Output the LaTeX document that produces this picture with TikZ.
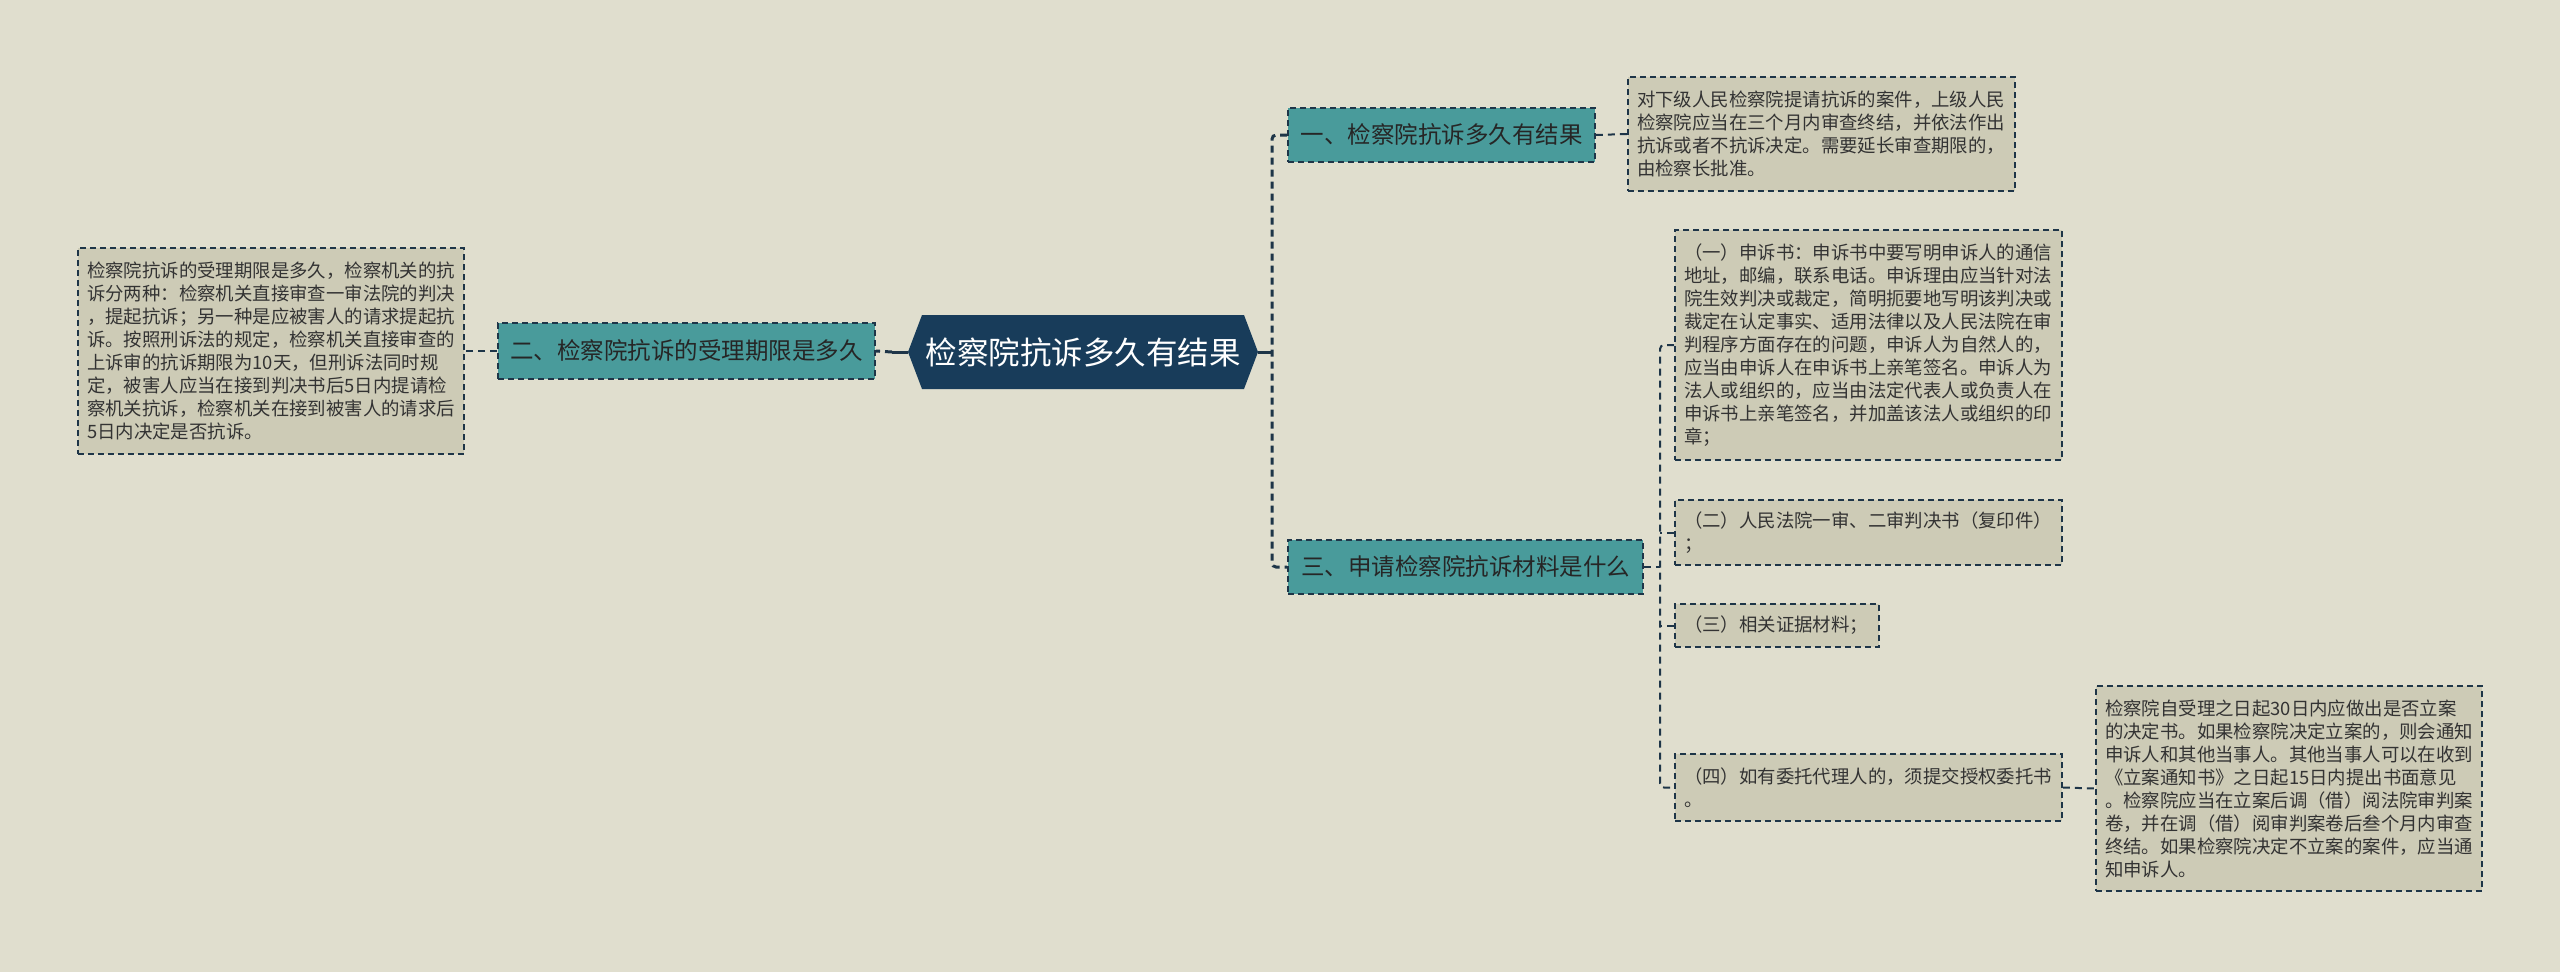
\documentclass[tikz,border=0pt]{standalone}
\usepackage{fontspec}
\newfontfamily\cjk{Noto Sans CJK SC}
\definecolor{bgc}{HTML}{E0DECE}
\definecolor{leaffill}{HTML}{CDCBB6}
\definecolor{teal1}{HTML}{499B9B}
\definecolor{navy}{HTML}{183C5A}
\definecolor{edgec}{HTML}{1E3548}
\definecolor{txt}{HTML}{333333}
\begin{document}
\begin{tikzpicture}[x=1pt,y=-1pt,
  leaf/.style={draw=edgec, fill=leaffill, line width=1.6pt, dash pattern=on 6pt off 4pt,
    inner sep=0pt, font=\cjk\fontsize{18.4}{23}\selectfont, text=txt, align=left, anchor=center},
  branch/.style={draw=edgec, fill=teal1, line width=1.6pt, dash pattern=on 6pt off 4pt,
    inner sep=0pt, font=\cjk\fontsize{23.5}{28}\selectfont, text=black!85, align=center, anchor=center},
  conn/.style={draw=edgec, line width=3pt, dash pattern=on 7pt off 5pt, rounded corners=4pt},
  sconn/.style={draw=edgec, line width=3pt},
  lconn/.style={draw=edgec, line width=2pt, dash pattern=on 7pt off 5pt, rounded corners=4pt}
]
\useasboundingbox[fill=bgc] (0,0) rectangle (2560,972);

% root
\fill[navy] (908,352) -- (922,315) -- (1244,315) -- (1258,352) -- (1244,389) -- (922,389) -- cycle;
\node[font=\cjk\fontsize{31.5}{36}\selectfont, text=white, inner sep=0pt, minimum width=350pt, minimum height=74pt] (root) at (1083,352) {检察院抗诉多久有结果};

% branches
\node[branch, minimum width=377pt, minimum height=56pt] (b2) at (686.5,351) {二、检察院抗诉的受理期限是多久};
\node[branch, minimum width=307pt, minimum height=54pt] (b1) at (1441.5,135) {一、检察院抗诉多久有结果};
\node[branch, minimum width=355pt, minimum height=54pt] (b3) at (1465.5,567) {三、申请检察院抗诉材料是什么};

% leaves
\node[leaf, minimum width=386pt, minimum height=206pt, text width=368pt] (lL) at (271,351) {检察院抗诉的受理期限是多久，检察机关的抗\\诉分两种：检察机关直接审查一审法院的判决\\，提起抗诉；另一种是应被害人的请求提起抗\\诉。按照刑诉法的规定，检察机关直接审查的\\上诉审的抗诉期限为10天，但刑诉法同时规\\定，被害人应当在接到判决书后5日内提请检\\察机关抗诉，检察机关在接到被害人的请求后\\5日内决定是否抗诉。};

\node[leaf, minimum width=387pt, minimum height=114pt, text width=369pt] (lT) at (1821.5,134) {对下级人民检察院提请抗诉的案件，上级人民\\检察院应当在三个月内审查终结，并依法作出\\抗诉或者不抗诉决定。需要延长审查期限的，\\由检察长批准。};

\node[leaf, minimum width=387pt, minimum height=230pt, text width=369pt] (l1) at (1868.5,345) {（一）申诉书：申诉书中要写明申诉人的通信\\地址，邮编，联系电话。申诉理由应当针对法\\院生效判决或裁定，简明扼要地写明该判决或\\裁定在认定事实、适用法律以及人民法院在审\\判程序方面存在的问题，申诉人为自然人的，\\应当由申诉人在申诉书上亲笔签名。申诉人为\\法人或组织的，应当由法定代表人或负责人在\\申诉书上亲笔签名，并加盖该法人或组织的印\\章；};

\node[leaf, minimum width=387pt, minimum height=65pt, text width=369pt] (l2) at (1868.5,532.5) {（二）人民法院一审、二审判决书（复印件）\\；};

\node[leaf, minimum width=204pt, minimum height=43pt, text width=186pt] (l3) at (1777,625.5) {（三）相关证据材料；};

\node[leaf, minimum width=387pt, minimum height=67pt, text width=369pt] (l4) at (1868.5,787.5) {（四）如有委托代理人的，须提交授权委托书\\。};

\node[leaf, minimum width=386pt, minimum height=205pt, text width=368pt] (lF) at (2289,788.5) {检察院自受理之日起30日内应做出是否立案\\的决定书。如果检察院决定立案的，则会通知\\申诉人和其他当事人。其他当事人可以在收到\\《立案通知书》之日起15日内提出书面意见\\。检察院应当在立案后调（借）阅法院审判案\\卷，并在调（借）阅审判案卷后叁个月内审查\\终结。如果检察院决定不立案的案件，应当通\\知申诉人。};

% connectors
\coordinate (jr) at (1272,352);
\coordinate (jl) at (892,352);
\coordinate (v3) at (1660,567);
\draw[sconn] (root.east) -- (jr);
\draw[conn] (b1.west) -- (b1.west -| jr) |- (b3.west);
\draw[sconn] (root.west) -- (jl);
\draw[conn] (jl) -- (b2.east);
\draw[lconn] (b2.west) -- (lL.east);
\draw[lconn] (b1.east) -- (lT.west);
\draw[lconn] (l1.west) -- (l1.west -| v3) |- (l4.west);
\draw[lconn] (b3.east) -- (v3);
\draw[lconn] (l2.west) -- (l2.west -| v3);
\draw[lconn] (l3.west) -- (l3.west -| v3);
\draw[lconn] (l4.east) -- (lF.west);
\end{tikzpicture}
\end{document}
